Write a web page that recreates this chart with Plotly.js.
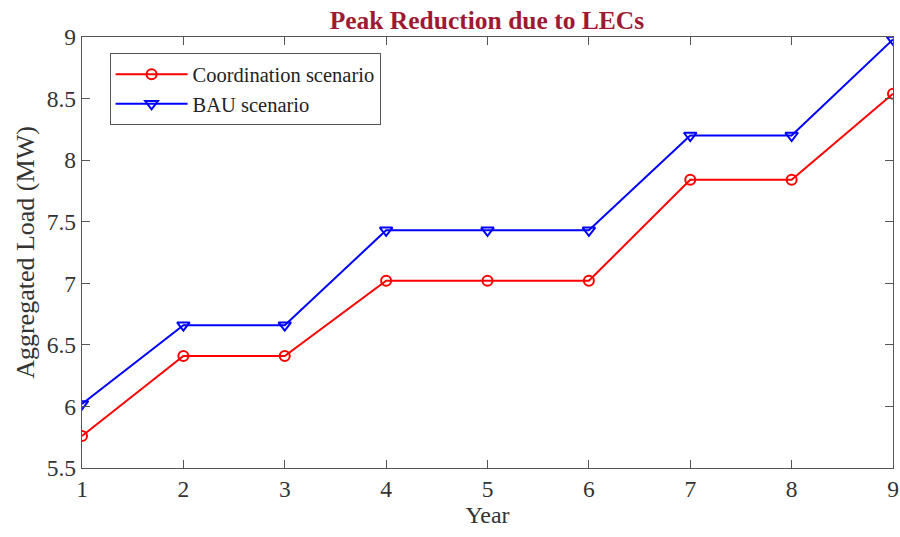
<!DOCTYPE html>
<html>
<head>
<meta charset="utf-8">
<script src="https://cdn.plot.ly/plotly-3.0.1.min.js"></script>
<style>
  html, body { margin: 0; padding: 0; background: #ffffff; }
  #chart { width: 900px; height: 537px; }
</style>
</head>
<body>
<div id="chart"></div>
<script>
// Planning years and aggregated peak load (MW) for each scenario
const years = [1, 2, 3, 4, 5, 6, 7, 8, 9];
const coordinationLoad = [5.76, 6.41, 6.41, 7.02, 7.02, 7.02, 7.84, 7.84, 8.54];
const bauLoad = [6.02, 6.66, 6.66, 7.43, 7.43, 7.43, 8.20, 8.20, 8.98];
const yTicks = [5.5, 6, 6.5, 7, 7.5, 8, 8.5, 9];
const yTickText = ['5.5', '6', '6.5', '7', '7.5', '8', '8.5', '9'];

const serif = 'Liberation Serif, Times New Roman, serif';

const traces = [
  {
    x: years, y: coordinationLoad,
    name: 'Coordination scenario',
    mode: 'lines+markers',
    line: { color: '#ff0000', width: 2 },
    marker: { symbol: 'circle-open', size: 10, color: '#ff0000', line: { width: 2, color: '#ff0000' } }
  },
  {
    x: years, y: bauLoad,
    name: 'BAU scenario',
    mode: 'lines+markers',
    line: { color: '#0000ff', width: 2 },
    marker: { symbol: 'triangle-down-open', size: 11, color: '#0000ff', line: { width: 2, color: '#0000ff' } }
  }
];

const axisCommon = {
  showgrid: false,
  zeroline: false,
  showline: true,
  linecolor: '#555555',
  linewidth: 1.2,
  mirror: 'allticks',
  ticks: 'inside',
  ticklen: 8,
  tickwidth: 1.2,
  tickcolor: '#555555',
  tickfont: { family: serif, size: 23.5, color: '#333333' }
};

const layout = {
  width: 900,
  height: 537,
  margin: { l: 82, r: 7, t: 37, b: 69 },
  paper_bgcolor: '#ffffff',
  plot_bgcolor: '#ffffff',
  showlegend: true,
  title: {
    text: '<b>Peak Reduction due to LECs</b>',
    font: { family: serif, size: 25.5, color: '#9e1a33' },
    x: 0.541, xanchor: 'center',
    y: 0.962, yanchor: 'middle'
  },
  xaxis: Object.assign({}, axisCommon, {
    range: [1, 9],
    tickvals: years,
    ticktext: years.map(String),
    title: { text: 'Year', font: { family: serif, size: 24, color: '#333333' }, standoff: 4 }
  }),
  yaxis: Object.assign({}, axisCommon, {
    range: [5.5, 9],
    tickvals: yTicks,
    ticktext: yTickText,
    title: { text: 'Aggregated Load (MW)', font: { family: serif, size: 26, color: '#333333' }, standoff: 4 }
  }),
  legend: {
    x: 0.034, y: 0.962,
    xanchor: 'left', yanchor: 'top',
    bgcolor: '#ffffff',
    bordercolor: '#555555',
    borderwidth: 1,
    font: { family: serif, size: 20.5, color: '#222222' },
    tracegroupgap: 0,
    itemwidth: 72
  }
};

Plotly.newPlot('chart', traces, layout, { displayModeBar: false, staticPlot: true });
</script>
</body>
</html>
